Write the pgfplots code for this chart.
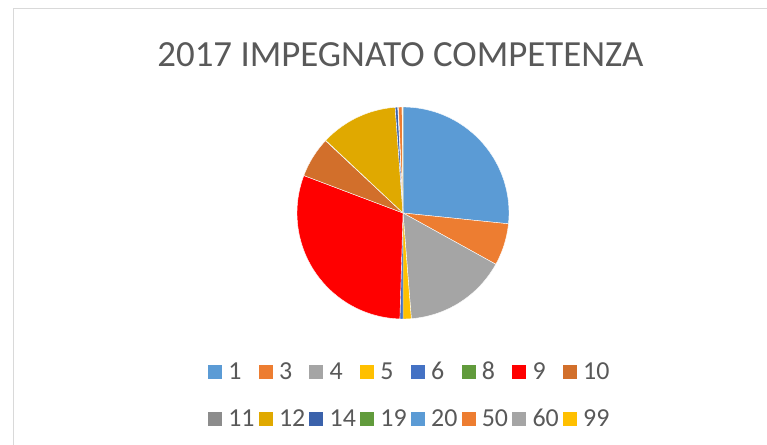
\documentclass[border=0pt]{standalone}
\usepackage{pgfplots}
\pgfplotsset{compat=1.18}
\usepackage{fontspec}
\setmainfont{Carlito}
\definecolor{c1}{HTML}{5B9BD5}
\definecolor{c3}{HTML}{ED7D31}
\definecolor{c4}{HTML}{A5A5A5}
\definecolor{c5}{HTML}{FFC000}
\definecolor{c6}{HTML}{4472C4}
\definecolor{c8}{HTML}{619B3C}
\definecolor{c9}{HTML}{FF0000}
\definecolor{c10}{HTML}{D26F2B}
\definecolor{c11}{HTML}{8C8C8C}
\definecolor{c12}{HTML}{E0A900}
\definecolor{c14}{HTML}{3B62AB}
\definecolor{c19}{HTML}{619B3C}
\definecolor{c20}{HTML}{5B9BD5}
\definecolor{c50}{HTML}{ED7D31}
\definecolor{c60}{HTML}{A5A5A5}
\definecolor{c99}{HTML}{FFC000}
\definecolor{txt}{HTML}{595959}
\definecolor{frame}{HTML}{D9D9D9}
% category / share (percent), in Excel order (clockwise from 12 o'clock)
\def\piedata{1/26.6, 3/6.4, 4/15.7, 5/1.25, 6/0.47, 8/0, 9/30.25, 10/6.2, 11/0.05, 12/11.8, 14/0.4, 19/0, 20/0.1, 50/0.55, 60/0.1, 99/0.03}
\begin{document}
\begin{tikzpicture}
\path[use as bounding box] (0,0) rectangle (767bp,445bp);
\fill[white] (0,0) rectangle (767bp,445bp);
\draw[frame, line width=1bp] (13.5bp,0) -- (13.5bp,436.5bp) -- (767bp,436.5bp);
\gdef\total{0}
\foreach \c/\v in \piedata {\pgfmathparse{\total+\v}\xdef\total{\pgfmathresult}}
\gdef\cum{0}
\begin{axis}[
  at={(403bp,232bp)}, anchor=center,
  width=212bp, height=212bp, scale only axis,
  xmin=-1, xmax=1, ymin=-1, ymax=1,
  hide axis, clip=false,
  title={2017 IMPEGNATO COMPETENZA},
  title style={font=\fontsize{37}{40}\selectfont, text=txt, at={(axis description cs:0.488,1.161)}, anchor=base, inner sep=0pt},
  legend columns=8,
  legend style={at={(axis description cs:0.537,-0.360)}, anchor=center, draw=none, fill=none,
    font=\fontsize{26}{28}\selectfont, text=txt, column sep=0pt, row sep=31bp, inner sep=0pt, outer sep=0pt,
    nodes={inner sep=0pt, text height=16bp, text depth=0pt}},
  legend cell align=left,
  legend image code/.code={\fill[#1] (0bp,-7bp) rectangle (14bp,7bp); \path (20.3bp,0);},
]
\foreach \c/\v in \piedata {
  \pgfmathsetmacro\b{\cum+\v*360/\total}
  \ifdim \v pt>0pt
    \edef\temp{\noexpand\addplot[forget plot, fill=c\c, draw=white, line width=0.4bp, domain=\cum:\b, samples=60, variable=\noexpand\t] ({sin(\noexpand\t)},{cos(\noexpand\t)}) -- (axis cs:0,0) -- cycle;}
    \temp
  \fi
  \xdef\cum{\b}
}
\foreach \c/\v in \piedata {
  \edef\temp{\noexpand\addlegendimage{fill=c\c, draw=none}\noexpand\addlegendentry{\noexpand\makebox[30.4bp][l]{\c}}}
  \temp
}
\end{axis}
\end{tikzpicture}
\end{document}
